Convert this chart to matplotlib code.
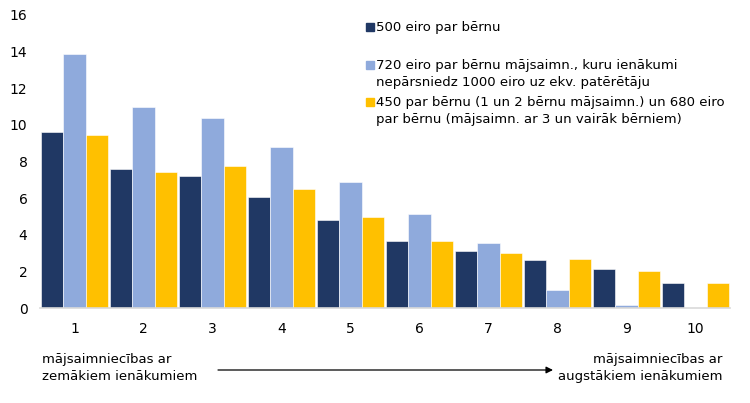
import matplotlib.pyplot as plt
import matplotlib.patches as mpatches
import numpy as np

deciles = ['1', '2', '3', '4', '5', '6', '7', '8', '9', '10']
v500 = [9.6, 7.6, 7.23, 6.05, 4.81, 3.64, 3.13, 2.6, 2.15, 1.35]
v720 = [13.85, 10.97, 10.4, 8.78, 6.9, 5.12, 3.53, 0.98, 0.16, 0.0]
v450 = [9.45, 7.4, 7.78, 6.52, 4.97, 3.64, 3.02, 2.66, 2.04, 1.35]

labels = ['500 eiro par bērnu',
          '720 eiro par bērnu mājsaimn., kuru ienākumi\nnepārsniedz 1000 eiro uz ekv. patērētāju',
          '450 par bērnu (1 un 2 bērnu mājsaimn.) un 680 eiro\npar bērnu (mājsaimn. ar 3 un vairāk bērniem)']
colors = ['#203864', '#8FAADC', '#FFC000']

plt.rcParams['font.family'] = 'DejaVu Sans'
fig = plt.figure(figsize=(7.5, 4.03), dpi=100)
ax = fig.add_axes([0.0533, 0.2357, 0.92, 0.7271])

x = np.arange(1, len(deciles) + 1)
w = 0.323
for i, (vals, c) in enumerate(zip([v500, v720, v450], colors)):
    ax.bar(x + (i - 1) * w, vals, width=w, color=c, edgecolor='white', linewidth=0.4)

ax.set_xlim(0.5, 10.5)
ax.set_ylim(0, 16)
ax.set_yticks(range(0, 17, 2))
ax.set_xticks(x)
ax.set_xticklabels(deciles)
ax.tick_params(length=0, labelsize=10, colors='black')
ax.tick_params(axis='x', pad=10)
ax.tick_params(axis='y', pad=9)
for s in ['left', 'right', 'top']:
    ax.spines[s].set_visible(False)
ax.spines['bottom'].set_color('#D9D9D9')
ax.spines['bottom'].set_linewidth(1.2)

# legend drawn by hand so markers sit on first line
W, H = 750.0, 403.0
leg_y = [27, 65, 102]
for lab, c, yy in zip(labels, colors, leg_y):
    fig.patches.append(mpatches.Rectangle((366 / W, 1 - (yy + 4) / H), 8 / W, 8 / H,
                                          transform=fig.transFigure, color=c))
    fig.text(376 / W, 1 - (yy - 6) / H, lab, fontsize=9.5, va='top', ha='left',
             linespacing=1.42)

fig.text(42 / W, 1 - 368 / H, 'mājsaimniecības ar\nzemākiem ienākumiem', fontsize=9.5,
         va='center', ha='left', linespacing=1.35)
fig.text(722 / W, 1 - 368 / H, 'mājsaimniecības ar\naugstākiem ienākumiem', fontsize=9.5,
         va='center', ha='right', multialignment='right', linespacing=1.35)
ax.annotate('', xy=(553 / W, 1 - 370 / H), xytext=(218 / W, 1 - 370 / H),
            xycoords='figure fraction', textcoords='figure fraction',
            arrowprops=dict(arrowstyle='-|>', color='black', lw=0.9,
                            mutation_scale=10, shrinkA=0, shrinkB=0))

fig.savefig('out.png', dpi=100)
